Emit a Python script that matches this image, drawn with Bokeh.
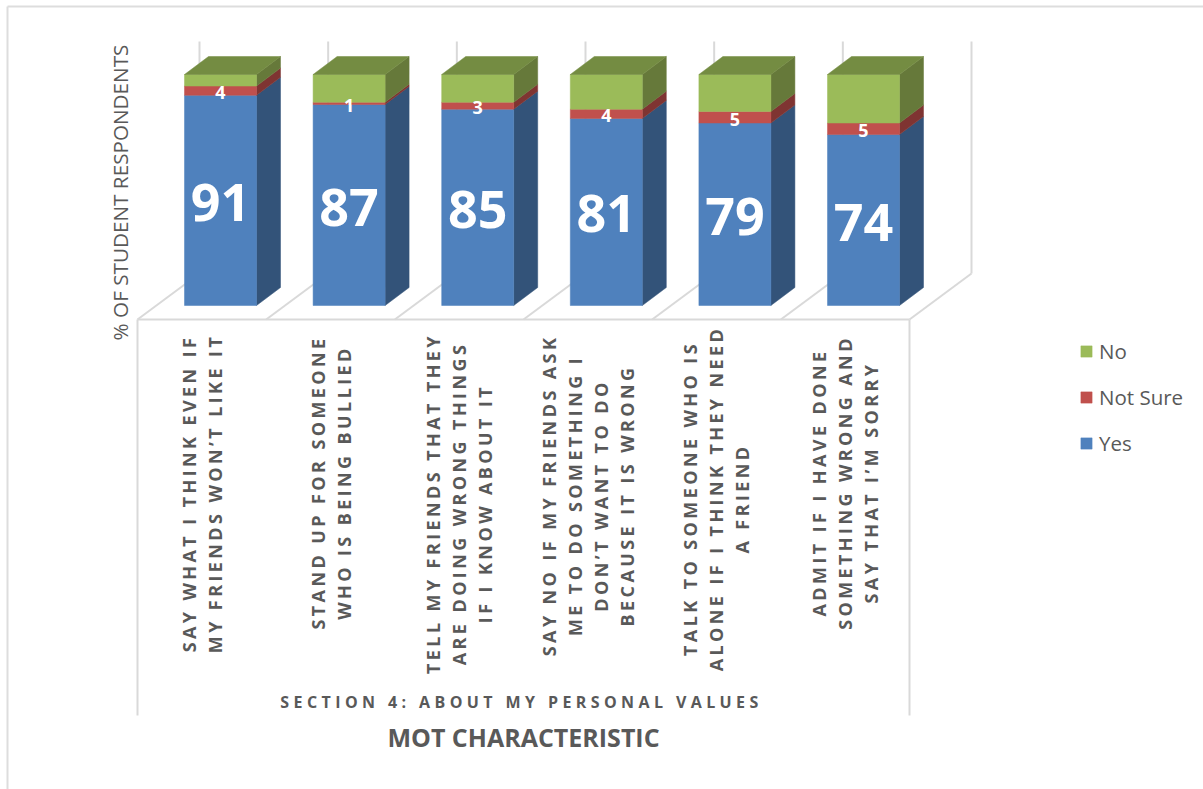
from bokeh.plotting import figure
from bokeh.document import Document
from bokeh.embed import file_html
from bokeh.resources import INLINE
from bokeh.models import Legend, LegendItem, CustomJS
from bokeh.core.properties import value

# ---- data ----
yes_values = [91, 87, 85, 81, 79, 74]
not_sure_values = [4, 1, 3, 4, 5, 5]
no_values = [5, 12, 12, 15, 16, 21]
series_names = ["Yes", "Not Sure", "No"]
category_lines = [
    ["SAY WHAT I THINK EVEN IF", "MY FRIENDS WON\u2019T LIKE IT"],
    ["STAND UP FOR SOMEONE", "WHO IS BEING BULLIED"],
    ["TELL MY FRIENDS THAT THEY", "ARE DOING WRONG THINGS", "IF I KNOW ABOUT IT"],
    ["SAY NO IF MY FRIENDS ASK", "ME TO DO SOMETHING I", "DON\u2019T WANT TO DO", "BECAUSE IT IS WRONG"],
    ["TALK TO SOMEONE WHO IS", "ALONE IF I THINK THEY NEED", "A FRIEND"],
    ["ADMIT IF I HAVE DONE", "SOMETHING WRONG AND", "SAY THAT I\u2019M SORRY"],
]
label_block_centres = [493, 482, 503, 495, 498, 482]
group_title = "SECTION 4: ABOUT MY PERSONAL VALUES"
x_title = "MOT CHARACTERISTIC"
y_title = "% OF STUDENT RESPONDENTS"

# ---- geometry (screen px mapped to data scales) ----
W, H = 1203, 789
X0, STEP = 220.0, 128.6      # screen x of first bar's centre, px per category
Y0, UNIT = 305.0, 2.31       # screen y of value 0, px per percent
BAR_W = 72.0 / STEP
DX, DY = 24.0 / STEP, 18.0 / UNIT
x_start = -X0 / STEP
x_end = (W - X0) / STEP
y_top = Y0 / UNIT
y_bottom = (Y0 - H) / UNIT
LS_CAT = 3.4     # px letter spacing of category labels
LS_SEC = 4.4     # px letter spacing of the group title


def sx(px):
    return (px - X0) / STEP


def sy(px):
    return (Y0 - px) / UNIT


p = figure(width=W, height=H, x_range=(x_start, x_end), y_range=(y_bottom, y_top),
           output_backend="svg", toolbar_location=None, min_border=0)
p.axis.visible = False
p.xgrid.visible = False
p.ygrid.visible = False
p.outline_line_color = None
p.background_fill_color = "white"

GREY = "#D9D9D9"
TXT = "#595959"
LW = 2

# outer chart border
p.line([sx(7), x_end], [sy(6)] * 2, line_color="#DDDDDD", line_width=LW)
p.line([sx(7)] * 2, [sy(6), y_bottom], line_color="#DDDDDD", line_width=LW)

# floor and walls
n = len(yes_values)
FX0 = sx(137)
FX1 = sx(909)
FDX, FDY = 62 / STEP, 46 / UNIT
FY = sy(319)
p.line([FX0, FX1], [FY, FY], line_color=GREY, line_width=LW)
for i in range(n + 1):
    fx = FX0 + i * (FX1 - FX0) / n
    p.line([fx, fx + FDX], [FY, FY + FDY], line_color=GREY, line_width=LW)
    p.line([fx + FDX, fx + FDX], [FY + FDY, sy(41)], line_color=GREY, line_width=LW)
for fx in (FX0, FX1):
    p.line([fx, fx], [FY, sy(715)], line_color=GREY, line_width=LW)

# bars
front_colors = ["#4F81BD", "#C0504D", "#9BBB59"]
side_colors = ["#335379", "#7F3432", "#66793A"]
top_color = "#748C42"

legend_renderers = {}
bottom = [0] * n
for s, vals in enumerate([yes_values, not_sure_values, no_values]):
    tops = [b + v for b, v in zip(bottom, vals)]
    cen = list(range(n))
    side_x = [[c + BAR_W / 2, c + BAR_W / 2 + DX, c + BAR_W / 2 + DX, c + BAR_W / 2] for c in cen]
    side_y = [[b, b + DY, t + DY, t] for b, t in zip(bottom, tops)]
    p.patches(side_x, side_y, fill_color=side_colors[s], line_color=side_colors[s], line_width=0.5)
    legend_renderers[series_names[s]] = p.vbar(
        x=cen, width=BAR_W, bottom=bottom, top=tops,
        fill_color=front_colors[s], line_color=front_colors[s], line_width=0.5)
    if s == 2:
        top_x = [[c - BAR_W / 2, c + BAR_W / 2, c + BAR_W / 2 + DX, c - BAR_W / 2 + DX] for c in cen]
        top_y = [[t, t, t + DY, t + DY] for t in tops]
        p.patches(top_x, top_y, fill_color=top_color, line_color=top_color, line_width=0.5)
    bottom = tops

# data labels
p.text(x=list(range(n)), y=[v / 2 for v in yes_values], text=[str(v) for v in yes_values],
       text_color="white", text_font=value("Open Sans"), text_font_style="bold",
       text_font_size="52px", text_align="center", text_baseline="middle", y_offset=2)
p.text(x=list(range(n)), y=[y + v / 2 for y, v in zip(yes_values, not_sure_values)],
       text=[str(v) for v in not_sure_values],
       text_color="white", text_font=value("Open Sans"), text_font_style="bold",
       text_font_size="18px", text_align="center", text_baseline="middle", y_offset=2)

# category labels (rotated, one text per line)
LINE = 26.0 / STEP
LABEL_SHIFT = (201.5 - X0) / STEP
xs, ys, texts, offs = [], [], [], []
for i, lines in enumerate(category_lines):
    for j, t in enumerate(lines):
        xs.append(i + LABEL_SHIFT + (j - (len(lines) - 1) / 2) * LINE)
        ys.append(sy(label_block_centres[i]))
        texts.append(t)
        offs.append(len(t) * LS_CAT / 2)
p.text(x=xs, y=ys, text=texts, y_offset=offs, angle=90, angle_units="deg", text_color=TXT,
       text_font=value("Open Sans"), text_font_style="bold", text_font_size="18px",
       text_align="center", text_baseline="middle")

p.text(x=[sx(521)], y=[sy(701)], text=[group_title], x_offset=-len(group_title) * LS_SEC / 2,
       text_color=TXT, text_font=value("Open Sans"), text_font_style="bold", text_font_size="16px",
       text_align="center", text_baseline="middle")
p.text(x=[sx(523)], y=[sy(736)], text=[x_title], text_color=TXT,
       text_font=value("Open Sans"), text_font_style="bold", text_font_size="25px",
       text_align="center", text_baseline="middle")
p.text(x=[sx(119)], y=[sy(192)], text=[y_title], angle=90, angle_units="deg", text_color=TXT,
       text_font=value("Open Sans"), text_font_size="20.7px", text_align="center", text_baseline="middle")

# legend
legend = Legend(
    items=[LegendItem(label=name, renderers=[legend_renderers[name]]) for name in reversed(series_names)],
    location=(1079, H - 457), padding=0, margin=0, spacing=18,
    glyph_width=14, glyph_height=14, label_standoff=6, border_line_color=None,
    background_fill_alpha=0, label_text_font="Open Sans", label_text_font_size="20.5px",
    label_text_color=TXT, label_height=20)
p.add_layout(legend, "center")

# letter-spacing for the tracked labels (not available as a text property)
tracking = CustomJS(args=dict(ls_cat=LS_CAT, ls_sec=LS_SEC), code="""
function walk(root, out) {
  root.querySelectorAll('*').forEach(el => {
    if (el.tagName && el.tagName.toLowerCase() === 'text') out.push(el);
    if (el.shadowRoot) walk(el.shadowRoot, out);
  });
  return out;
}
function apply() {
  for (const t of walk(document, [])) {
    const s = t.textContent;
    if (/^[A-Z0-9 :\\u2019]+$/.test(s) && s.length > 5 && s !== 'MOT CHARACTERISTIC') {
      t.style.letterSpacing = (s.startsWith('SECTION') ? ls_sec : ls_cat) + 'px';
    }
  }
}
apply();
setTimeout(apply, 50);
setTimeout(apply, 300);
""")

doc = Document()
doc.add_root(p)
doc.js_on_event("document_ready", tracking)
open("out.html", "w").write(file_html(doc, INLINE))
